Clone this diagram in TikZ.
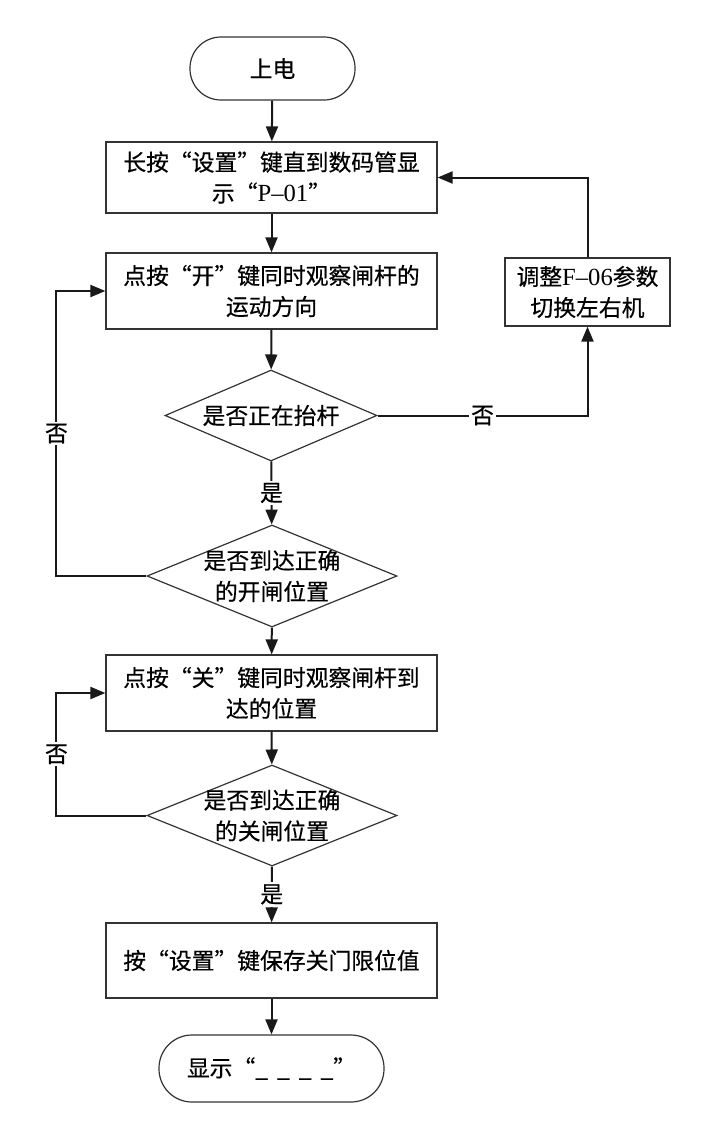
\documentclass[tikz,border=0pt]{standalone}
\usepackage{fontspec}
\newfontfamily\cjk[FakeBold=0.5]{Noto Sans CJK SC}
\newfontfamily\lat[Scale=1.08]{Liberation Serif}
\usetikzlibrary{arrows.meta,shapes.geometric}
\begin{document}
\begin{tikzpicture}[x=1pt,y=-1pt,
  font=\cjk\fontsize{22.8}{31}\selectfont,
  box/.style={draw=black!80, line width=1.2pt, rectangle, inner sep=0pt, align=center},
  term/.style={box, rounded corners=#1},
  dec/.style={draw=black!80, line width=1.2pt, diamond, inner sep=0pt},
  dtext/.style={align=center, inner sep=0pt},
  conn/.style={draw=black!90, line width=2pt, -{Triangle[length=15pt,width=12pt]}},
  lbl/.style={fill=white, inner sep=2pt}
]
\useasboundingbox (0,0) rectangle (711,1130);

\node[term=31pt, minimum width=165pt, minimum height=63pt] (start) at (272.5,68.5) {上电};
\node[box, minimum width=331pt, minimum height=71pt] (b1) at (271.5,177.5) {长按“设置”键直到数码管显\\示“{\lat P–01}”};
\node[box, minimum width=331pt, minimum height=76pt] (b2) at (271.5,291) {点按“开”键同时观察闸杆的\\运动方向};
\node[dec, minimum width=212pt, minimum height=91pt] (d1) at (271,415.5) {};
\node[dtext] at (d1.center) {是否正在抬杆};
\node[dec, minimum width=250pt, minimum height=102pt] (d2) at (272,576) {};
\node[dtext] at (d2.center) {是否到达正确\\的开闸位置};
\node[box, minimum width=165pt, minimum height=68pt] (b3) at (587.5,292) {调整{\lat F–06}参数\\切换左右机};
\node[box, minimum width=331pt, minimum height=76pt] (b4) at (271.5,693) {点按“关”键同时观察闸杆到\\达的位置};
\node[dec, minimum width=250pt, minimum height=101pt] (d3) at (272,815.5) {};
\node[dtext] at (d3.center) {是否到达正确\\的关闸位置};
\node[box, minimum width=331pt, minimum height=75pt] (b5) at (271.5,960.5) {按“设置”键保存关门限位值};
\node[term=33pt, minimum width=225pt, minimum height=67pt] (end) at (271.5,1068.5) {显示“\_\hspace{9pt}\_\hspace{9pt}\_\hspace{9pt}\_”};

\draw[conn] (start) -- (b1);
\draw[conn] (b1) -- (b2);
\draw[conn] (b2) -- (d1);
\draw[conn] (d1) -- node[lbl]{是} (d2);
\draw[conn] (d1.east) -- node[lbl]{否} (b3.south |- d1.east) -- (b3.south);
\draw[conn] (b3.north) |- (b1.east);
\draw[conn] (d2.west) -- ++(-90,0) |- node[lbl,pos=0.25]{否} (b2.west);
\draw[conn] (d2) -- (b4);
\draw[conn] (b4) -- (d3);
\draw[conn] (d3.west) -- ++(-90,0) |- node[lbl,pos=0.25]{否} (b4.west);
\draw[conn] (d3) -- node[lbl]{是} (b5);
\draw[conn] (b5) -- (end);
\end{tikzpicture}
\end{document}
